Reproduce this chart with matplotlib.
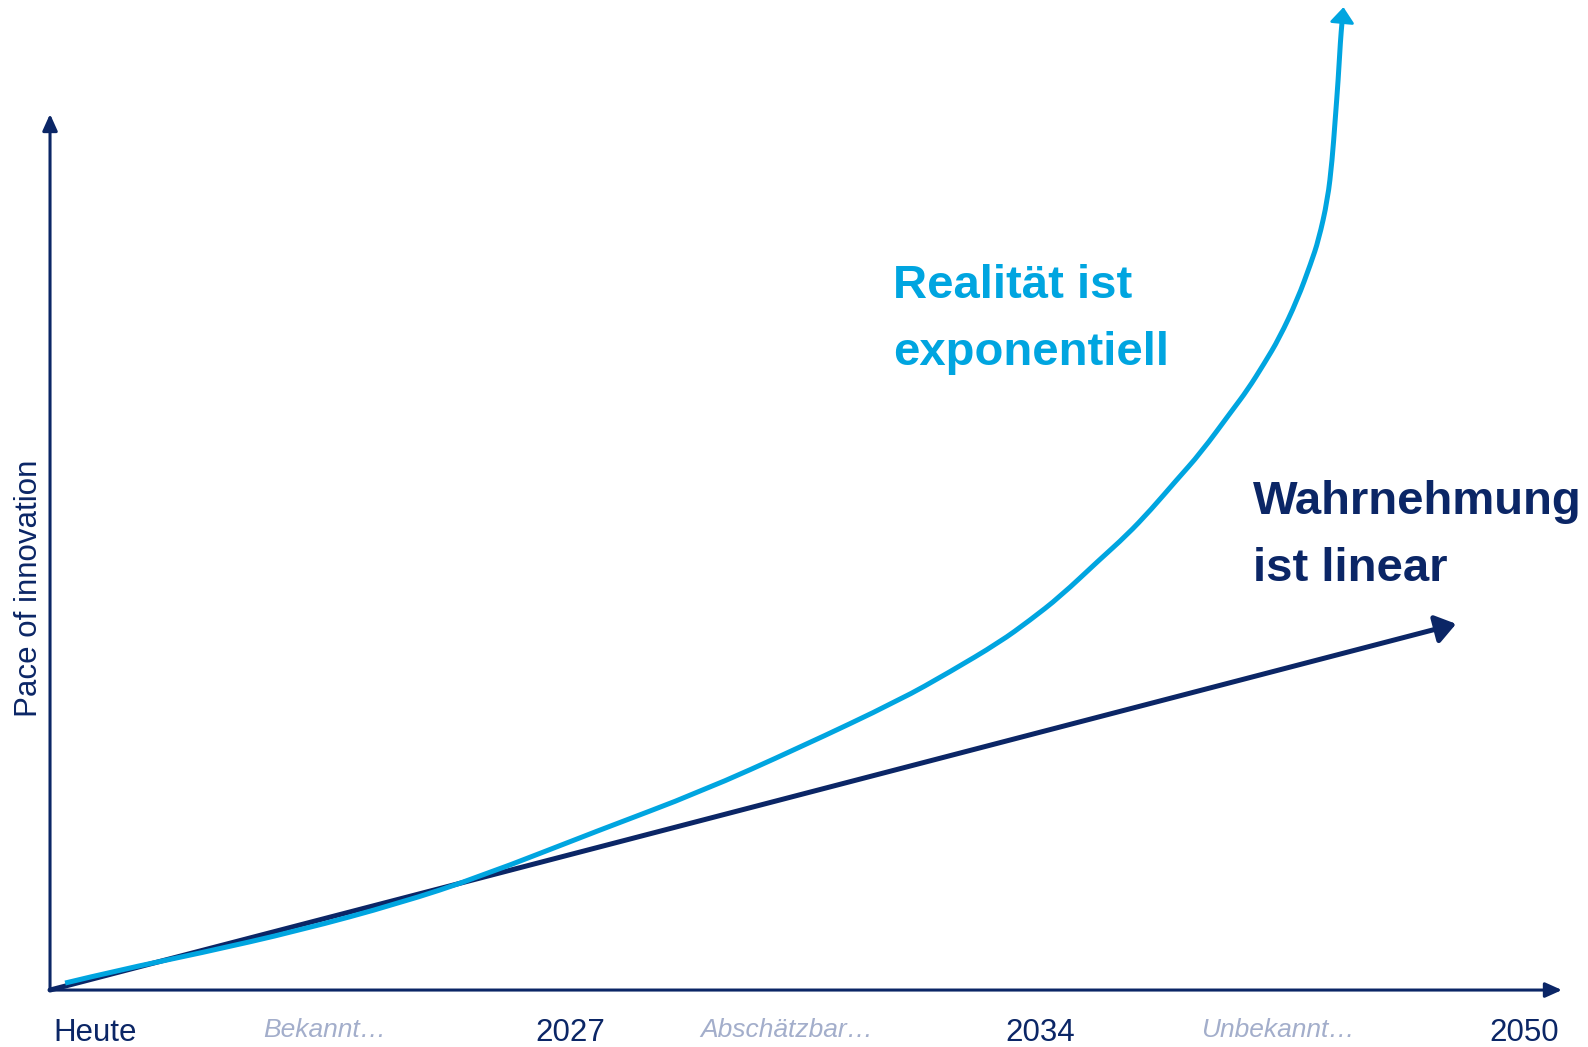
import matplotlib.pyplot as plt
from matplotlib.path import Path
from matplotlib.patches import PathPatch

plt.rcParams['font.family'] = ['Liberation Sans', 'DejaVu Sans']

NAVY = '#0B2666'
BLUE = '#00A5E0'
GREY = '#A3AECB'

# "Realitaet" curve, time on x, pace on y (both 0-100 along the axes)
real_x = [1.0, 4.6, 9.9, 16.5, 23.1, 28.4, 36.4, 43.0, 49.6, 56.2, 59.5,
          62.8, 64.8, 66.8, 69.4, 71.2, 72.8, 74.5, 76.1, 78.2, 79.2,
          80.3, 81.3, 82.5, 83.4, 83.9, 84.5, 84.8, 85.0, 85.2, 85.35, 85.45]
real_y = [0.8, 2.3, 4.2, 6.8, 9.9, 12.9, 18.3, 22.6, 27.7, 33.1, 36.3,
          39.7, 42.2, 44.9, 49.1, 51.9, 54.8, 58.2, 61.3, 66.2, 68.5,
          71.5, 74.4, 78.8, 83.0, 85.6, 90.2, 94.7, 99.3, 103.9, 108.4, 110.4]
real_tip = (85.55, 112.2)

# "Wahrnehmung" straight line
perc_x = [0.0, 93.0]
perc_y = [0.0, 41.8]

tick_pos = [3.0, 18.2, 34.4, 48.7, 65.5, 81.2, 97.5]
tick_labels = ['Heute', 'Bekannt…', '2027', 'Abschätzbar…', '2034',
               'Unbekannt…', '2050']
phase_labels = ['Bekannt…', 'Abschätzbar…', 'Unbekannt…']


def smooth_path(xs, ys):
    """Quadratic bezier chain through the midpoints (rounded polyline)."""
    pts = list(zip(xs, ys))
    verts = [pts[0]]
    codes = [Path.MOVETO]
    for i in range(1, len(pts) - 1):
        mid = ((pts[i][0] + pts[i + 1][0]) / 2, (pts[i][1] + pts[i + 1][1]) / 2)
        verts += [pts[i], mid]
        codes += [Path.CURVE3, Path.CURVE3]
    verts.append(pts[-1])
    codes.append(Path.LINETO)
    return Path(verts, codes)


fig = plt.figure(figsize=(15.88, 10.47), dpi=100)
ax = fig.add_axes([0.0315, 0.0544, 0.9521, 0.8367])
ax.set_xlim(0, 100)
ax.set_ylim(0, 100)
for s in ax.spines.values():
    s.set_visible(False)
ax.set_yticks([])
ax.set_xticks(tick_pos, tick_labels)
ax.tick_params(axis='x', length=0, pad=20, labelsize=22.5, labelcolor=NAVY)
for lab in ax.get_xticklabels():
    if lab.get_text() in phase_labels:
        lab.set_fontstyle('italic')
        lab.set_color(GREY)
        lab.set_fontsize(19)

# axes with arrow heads
axis_arrow = dict(arrowstyle='-|>,head_length=10,head_width=4.5',
                  mutation_scale=1, lw=2.2, color=NAVY,
                  shrinkA=0, shrinkB=0)
ax.annotate('', xy=(0, 100), xytext=(0, 0), arrowprops=axis_arrow,
            annotation_clip=False)
ax.annotate('', xy=(100, 0), xytext=(0, 0), arrowprops=axis_arrow,
            annotation_clip=False)

ax.text(-1.4, 45.9, 'Pace of innovation', rotation=90, ha='center',
        va='center', fontsize=22.5, color=NAVY)

# perceived: linear
ax.annotate('', xy=(perc_x[1], perc_y[1]), xytext=(perc_x[0], perc_y[0]),
            arrowprops=dict(arrowstyle='-|>,head_length=12,head_width=8.5',
                            mutation_scale=1, lw=3.6, color=NAVY,
                            shrinkA=0, shrinkB=0),
            annotation_clip=False, zorder=3)

# reality: exponential
ax.add_patch(PathPatch(smooth_path(real_x, real_y), facecolor='none',
                       edgecolor=BLUE, lw=3.6, capstyle='butt',
                       joinstyle='round', clip_on=False, zorder=4))
ax.annotate('', xy=real_tip, xytext=(real_x[-2], real_y[-2]),
            arrowprops=dict(arrowstyle='-|>,head_length=9.5,head_width=7.5',
                            mutation_scale=1, lw=2, color=BLUE,
                            shrinkA=0, shrinkB=0),
            annotation_clip=False, zorder=4)

# va='baseline' aligns the last line of a multi-line text
ax.text(55.75, 71.4, 'Realität ist\nexponentiell', color=BLUE,
        fontsize=34, fontweight='bold', va='baseline', ha='left',
        linespacing=1.66)
ax.text(79.56, 46.7, 'Wahrnehmung\nist linear', color=NAVY,
        fontsize=34, fontweight='bold', va='baseline', ha='left',
        linespacing=1.66)

fig.savefig('out.png', dpi=100)
